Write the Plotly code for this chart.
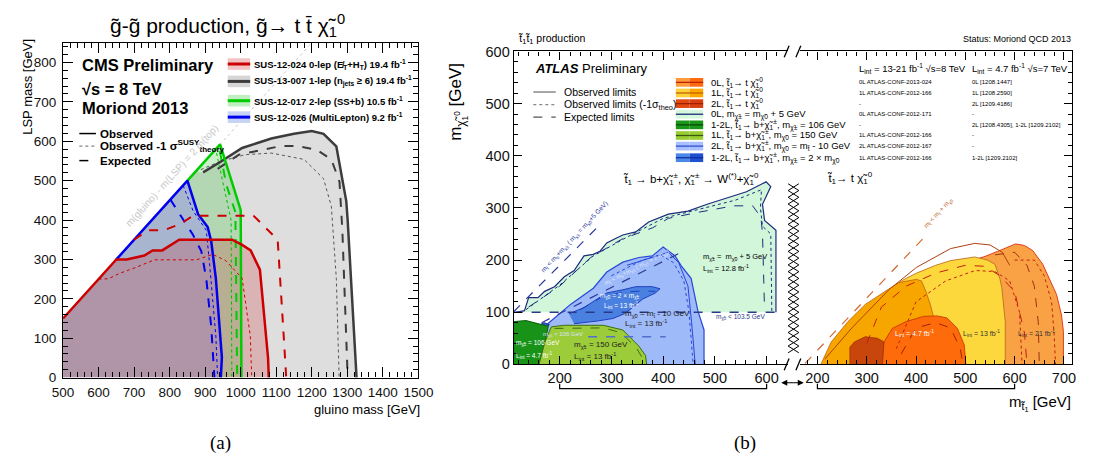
import plotly.graph_objects as go

W, H = 1096, 468
FONT = "Liberation Sans, Arial, sans-serif"

# ================= Panel (a) data: gluino mass vs LSP mass =================
diag_x = [500, 1200]
diag_y = [150, 850]

red_obs_x = [500, 650, 679, 729, 752, 779, 827, 976, 1004, 1028, 1054, 1077, 1079]
red_obs_y = [150, 300, 300, 310, 323, 323, 350, 350, 337, 323, 274, 49, 0]
red_exp_x = [700, 738, 784, 830, 866, 1036, 1077, 1104, 1121, 1128]
red_exp_y = [350, 374, 374, 390, 411, 411, 374, 350, 105, 0]
red_m1_x = [600, 628, 660, 706, 757, 876, 921, 958, 1004, 1027, 1031]
red_m1_y = [250, 251, 265, 280, 299, 299, 313, 297, 252, 105, 0]

blue_obs_x = [650, 850, 880, 898, 907, 917, 930, 947, 944]
blue_obs_y = [300, 500, 415, 392, 382, 346, 252, 51, 0]
blue_exp_x = [802, 866, 889, 903, 917, 926]
blue_exp_y = [452, 362, 321, 252, 129, 0]
blue_m1_x = [838, 866, 903, 912, 930, 935]
blue_m1_y = [488, 423, 374, 293, 105, 0]

green_obs_x = [850, 942, 1000, 1002]
green_obs_y = [500, 592, 425, 0]
green_exp_x = [941, 960, 985, 990]
green_exp_y = [575, 488, 420, 0]
green_m1_x = [932, 973, 975]
green_m1_y = [570, 399, 0]

grey_obs_x = [894, 940, 1004, 1086, 1150, 1200, 1233, 1269, 1297, 1301, 1326]
grey_obs_y = [521, 546, 583, 607, 619, 626, 619, 587, 448, 399, 0]
grey_exp_x = [935, 995, 1114, 1159, 1214, 1255, 1278, 1286, 1301]
grey_exp_y = [530, 566, 588, 588, 578, 554, 497, 374, 0]
grey_m1_x = [872, 940, 1013, 1086, 1178, 1233, 1255, 1269, 1277]
grey_m1_y = [522, 548, 566, 570, 554, 505, 435, 252, 0]

legA_labels = [
    "SUS-12-024 0-lep (E̸<sub>T</sub>+H<sub>T</sub>) 19.4 fb<sup>-1</sup>",
    "SUS-13-007 1-lep (n<sub>jets</sub> ≥ 6) 19.4 fb<sup>-1</sup>",
    "SUS-12-017 2-lep (SS+b) 10.5 fb<sup>-1</sup>",
    "SUS-12-026 (MultiLepton) 9.2 fb<sup>-1</sup>",
]

# ================= Panel (b) data: stop mass vs LSP mass =================
# left part: t1 -> b chargino
mint_x = [115, 132, 140, 158, 171, 190, 209, 228, 247, 265, 278, 291, 309, 322, 347, 372, 410, 448, 485, 523, 561, 599, 608, 592, 596, 618, 618]
mint_y = [100, 103, 128, 128, 140, 149, 168, 180, 208, 211, 217, 233, 242, 248, 254, 273, 288, 294, 307, 319, 331, 350, 341, 307, 276, 257, 100]
mint_exp_x = [140, 200, 260, 320, 380, 410, 470, 536, 573, 589, 592, 596]
mint_exp_y = [110, 150, 205, 240, 262, 280, 292, 304, 304, 282, 251, 103]
mint_m1_x = [135, 200, 265, 330, 400, 470, 540, 590, 588, 592, 608, 610]
mint_m1_y = [105, 152, 208, 244, 280, 297, 315, 335, 300, 265, 250, 100]

lb_x = [170, 150, 177, 221, 265, 291, 322, 353, 379, 400, 423, 435, 454, 467, 479, 479]
lb_y = [0, 45, 78, 115, 146, 177, 196, 205, 208, 225, 208, 189, 165, 103, 66, 0]
lb_in1_x = [300, 360, 395, 420, 440, 450, 458]
lb_in1_y = [170, 200, 210, 195, 160, 100, 0]
lb_in2_x = [330, 380, 410, 430, 448, 455, 462]
lb_in2_y = [190, 205, 215, 195, 150, 80, 0]

db_x = [218, 247, 272, 291, 322, 347, 379, 394, 385, 360, 341, 325, 303, 272, 228]
db_y = [97, 109, 125, 137, 143, 149, 149, 145, 137, 125, 109, 97, 88, 83, 78]
db_in_x = [240, 280, 320, 360, 385]
db_in_y = [105, 128, 138, 141, 140]
sb_x = [111, 130, 150, 170, 180, 165, 135, 111]
sb_y = [58, 64, 70, 80, 76, 64, 58, 55]

dg_x = [111, 111, 135, 160, 178, 172, 162]
dg_y = [0, 82, 84, 78, 73, 45, 0]

yg_x = [160, 172, 184, 209, 284, 322, 353, 366, 368]
yg_y = [0, 45, 72, 75, 75, 66, 35, 17, 0]
yg_exp_x = [190, 284, 318, 348, 360, 362]
yg_exp_y = [69, 70, 61, 32, 12, 0]

lim103_x = [111, 622]
lim103_y = [100, 100]
lim106_x = [255, 405]
lim106_y = [53, 53]
kin1_x = [111, 280]
kin1_y = [101, 270]
kin2_x = [165, 440]
kin2_y = [80, 217.5]

# right part: t1 -> t LSP
kin3_x = [175, 415]
kin3_y = [2, 242]
ro_x = [450, 460, 500, 540, 574, 602, 620, 637, 657, 668, 685, 695, 699, 699]
ro_y = [0, 150, 195, 207, 220, 231, 228, 218, 192, 170, 134, 95, 63, 0]
ye_x = [300, 300, 339, 370, 401, 440, 470, 519, 545, 560, 570, 574, 578, 581, 581]
ye_y = [0, 110, 137, 160, 175, 190, 199, 206, 200, 192, 165, 147, 110, 82, 0]
oy_x = [207, 228, 262, 297, 339, 366, 401, 411, 420, 429, 437, 443, 449]
oy_y = [0, 43, 82, 115, 141, 157, 163, 160, 140, 115, 85, 56, 0]
do_x = [328, 335, 352, 380, 415, 443, 463, 484, 498, 501]
do_y = [0, 43, 69, 82, 92, 93, 89, 69, 37, 0]
dd_x = [266, 266, 275, 297, 322, 335, 332]
dd_y = [0, 33, 43, 53, 50, 43, 0]
tl1_x = [215, 270, 346, 401, 470, 519, 550, 575, 590]
tl1_y = [10, 70, 144, 186, 222, 232, 229, 215, 190]
tl2_x = [300, 330, 380, 440, 500, 540, 570, 600, 620, 625]
tl2_y = [40, 110, 150, 175, 190, 188, 170, 140, 60, 0]
tl3_x = [360, 400, 460, 520, 560, 590, 610, 615]
tl3_y = [30, 120, 160, 180, 178, 160, 100, 0]
tl4_x = [370, 400, 440, 470, 490, 495]
tl4_y = [20, 70, 80, 70, 30, 0]
tl5_x = [600, 640, 660, 675, 680, 683]
tl5_y = [200, 200, 170, 120, 60, 0]
tl6_x = [560, 600, 625, 640, 648, 650]
tl6_y = [210, 215, 190, 150, 80, 0]

legB_labels = [
    "0L, t̃<sub>1</sub>→ t χ̃<sub>1</sub><sup>0</sup>",
    "1L, t̃<sub>1</sub>→ t χ̃<sub>1</sub><sup>0</sup>",
    "2L, t̃<sub>1</sub>→ t χ̃<sub>1</sub><sup>0</sup>",
    "0L, m<sub>χ̃±</sub> = m<sub>χ̃0</sub> + 5 GeV",
    "1-2L, t̃<sub>1</sub>→ b+χ̃<sub>1</sub><sup>±</sup>, m<sub>χ̃±</sub> = 106 GeV",
    "1L, t̃<sub>1</sub>→ b+χ̃<sub>1</sub><sup>±</sup>, m<sub>χ̃0</sub> = 150 GeV",
    "2L, t̃<sub>1</sub>→ b+χ̃<sub>1</sub><sup>±</sup>, m<sub>χ̃0</sub> = m<sub>t̃</sub> - 10 GeV",
    "1-2L, t̃<sub>1</sub>→ b+χ̃<sub>1</sub><sup>±</sup>, m<sub>χ̃±</sub> = 2 × m<sub>χ̃0</sub>",
]
legB_ref8 = ["0L ATLAS-CONF-2013-024", "1L ATLAS-CONF-2012-166", "-", "0L ATLAS-CONF-2012-171",
             "-", "1L ATLAS-CONF-2012-166", "2L ATLAS-CONF-2012-167", "1L ATLAS-CONF-2012-166"]
legB_ref7 = ["0L [1208.1447]", "1L [1208.2590]", "2L [1209.4186]", "-",
             "2L [1208.4305], 1-2L [1209.2102]", "-", "-", "1-2L [1209.2102]"]
legB_colors = [("#ff9a3c", "#ff6a10", "#c02000"), ("#ffd23a", "#ffa800", "#c06000"),
               ("#e24a12", "#d84010", "#a02000"), ("#d4f7dc", "#d4f7dc", "#1c2c7c"),
               ("#1a961a", "#1a961a", "#0a4a0a"), ("#9acd32", "#9acd32", "#3a5a10"),
               ("#a8c0ff", "#a8c0ff", "#3050d0"), ("#4a88e8", "#1f50d0", "#1030a0")]

# ================= figure =================
fig = go.Figure()


def poly(xs, ys, xa, ya, fill, line="rgba(0,0,0,0)", width=0.0):
    fig.add_trace(go.Scatter(x=xs, y=ys, xaxis=xa, yaxis=ya, mode="lines", fill="toself",
                             fillcolor=fill, line=dict(color=line, width=width),
                             hoverinfo="skip", showlegend=False))


def curve(xs, ys, xa, ya, color, width, dash="solid"):
    fig.add_trace(go.Scatter(x=xs, y=ys, xaxis=xa, yaxis=ya, mode="lines",
                             line=dict(color=color, width=width, dash=dash),
                             hoverinfo="skip", showlegend=False))


# ---- panel (a) fills ----
poly([500, 500, 872] + grey_obs_x, [0, 150, 522] + grey_obs_y, "x", "y", "rgba(200,200,200,0.6)")
poly(green_obs_x + blue_obs_x[1:][::-1], green_obs_y + blue_obs_y[1:][::-1], "x", "y", "rgba(40,190,40,0.24)")
poly([500] + blue_obs_x + [500], [150] + blue_obs_y + [0], "x", "y", "rgba(40,90,170,0.30)")
poly(red_obs_x + [500], red_obs_y + [0], "x", "y", "rgba(205,30,30,0.22)")

curve(diag_x, diag_y, "x", "y", "#c8c8c8", 1, "dot")
curve(grey_m1_x, grey_m1_y, "x", "y", "#555555", 1, "dot")
curve(grey_exp_x, grey_exp_y, "x", "y", "#3c3c3c", 2, "dash")
curve(grey_obs_x, grey_obs_y, "x", "y", "#3c3c3c", 2.5)
curve(green_m1_x, green_m1_y, "x", "y", "#00bb00", 1, "dot")
curve(green_exp_x, green_exp_y, "x", "y", "#00cc00", 2, "dash")
curve(green_obs_x, green_obs_y, "x", "y", "#00cc00", 2.5)
curve(blue_m1_x, blue_m1_y, "x", "y", "#0000ee", 1, "dot")
curve(blue_exp_x, blue_exp_y, "x", "y", "#0000ee", 2, "dash")
curve(blue_obs_x, blue_obs_y, "x", "y", "#0000ee", 2.5)
curve(red_m1_x, red_m1_y, "x", "y", "#cc0000", 1, "dot")
curve(red_exp_x, red_exp_y, "x", "y", "#cc0000", 2, "dash")
curve(red_obs_x, red_obs_y, "x", "y", "#cc0000", 2.5)

# ---- panel (b) left fills ----
poly(mint_x, mint_y, "x2", "y2", "#d2f6da", "#1c2c7c", 1.2)
curve(mint_exp_x, mint_exp_y, "x2", "y2", "#1c2c7c", 1, "dash")
curve(mint_m1_x, mint_m1_y, "x2", "y2", "#1c2c7c", 1, "dot")
poly(lb_x, lb_y, "x2", "y2", "#9fbaf8", "#2848d8", 1.2)
curve(lb_in1_x, lb_in1_y, "x2", "y2", "#2848d8", 1, "dot")
curve(lb_in2_x, lb_in2_y, "x2", "y2", "#2848d8", 1)
poly(db_x, db_y, "x2", "y2", "#4a80e0", "#1f3fbf", 1)
curve(db_in_x, db_in_y, "x2", "y2", "#1f3fbf", 1, "dash")
poly(sb_x, sb_y, "x2", "y2", "#2f5fd0", "#1030a0", 1)
poly(dg_x, dg_y, "x2", "y2", "#189318", "#0b5e0b", 1)
poly(yg_x, yg_y, "x2", "y2", "#9ccc3a", "#3a6e10", 1)
curve(yg_exp_x, yg_exp_y, "x2", "y2", "#3a6e10", 1, "dash")
curve(lim103_x, lim103_y, "x2", "y2", "#2a3a8a", 1.5, "dash")
curve(lim106_x, lim106_y, "x2", "y2", "#5070d0", 1.5, "dash")
curve(kin1_x, kin1_y, "x2", "y2", "#2a3a9a", 1.2, "dash")
curve(kin2_x, kin2_y, "x2", "y2", "#2a3a9a", 1.2, "dash")

# ---- panel (b) right fills ----
poly(ro_x, ro_y, "x3", "y3", "#f9a245", "#e03c1c", 1)
poly(ye_x, ye_y, "x3", "y3", "#fdd83c", "#b5651d", 0.8)
poly(oy_x, oy_y, "x3", "y3", "#f7a600", "#c06010", 0.8)
poly(do_x, do_y, "x3", "y3", "#fe6b0b", "#c03000", 0.8)
poly(dd_x, dd_y, "x3", "y3", "#c8460c", "#a03000", 0.8)
curve(tl1_x, tl1_y, "x3", "y3", "#b04010", 1)
curve(tl2_x, tl2_y, "x3", "y3", "#c02010", 1, "dash")
curve(tl3_x, tl3_y, "x3", "y3", "#c02010", 1, "dot")
curve(tl4_x, tl4_y, "x3", "y3", "#a02000", 1, "dash")
curve(tl5_x, tl5_y, "x3", "y3", "#c02010", 1, "dot")
curve(tl6_x, tl6_y, "x3", "y3", "#a03010", 1, "dash")
curve(kin3_x, kin3_y, "x3", "y3", "#d06a30", 1.2, "dash")


def px(x):
    return x / W


def py(y):
    return 1 - y / H


axis_common = dict(ticks="inside", tickcolor="black", tickwidth=1, showline=True, linecolor="black",
                   linewidth=1.3, showgrid=False, zeroline=False, tickmode="linear",
                   tickfont=dict(family=FONT, size=13.5, color="#111"))
tf_b = dict(family=FONT, size=14.5, color="#111")

fig.update_layout(
    width=W, height=H, margin=dict(l=0, r=0, t=0, b=0),
    paper_bgcolor="white", plot_bgcolor="white", showlegend=False,
    font=dict(family=FONT, color="black"),
    xaxis=dict(domain=[px(53.3), px(417.3)], range=[500, 1500], anchor="y", tick0=500, dtick=100,
               ticklen=10, mirror="allticks", ticklabelstandoff=2,
               minor=dict(tick0=500, dtick=20, ticklen=5, ticks="inside", tickcolor="black"),
               **axis_common),
    yaxis=dict(domain=[py(382.7), py(36)], range=[0, 850], anchor="x", tick0=0, dtick=100,
               ticklen=10, mirror="allticks", ticklabelstandoff=3,
               minor=dict(tick0=0, dtick=20, ticklen=5, ticks="inside", tickcolor="black"),
               **axis_common),
    xaxis2=dict(domain=[px(515), px(796)], range=[111.3, 641.5], anchor="y2", tick0=0, dtick=100,
                ticklen=8, mirror="allticks",
                minor=dict(tick0=0, dtick=20, ticklen=4, ticks="inside", tickcolor="black"),
                **{**axis_common, "tickfont": tf_b}),
    xaxis3=dict(domain=[px(808), px(1087)], range=[164.4, 716.8], anchor="y3", tick0=0, dtick=100,
                ticklen=8, mirror="allticks",
                minor=dict(tick0=0, dtick=20, ticklen=4, ticks="inside", tickcolor="black"),
                **{**axis_common, "tickfont": tf_b}),
    yaxis2=dict(domain=[py(369), py(45)], range=[0, 600], anchor="x2", tick0=0, dtick=100,
                ticklen=8, mirror=False,
                minor=dict(tick0=0, dtick=20, ticklen=4, ticks="inside", tickcolor="black"),
                **{**axis_common, "tickfont": tf_b}),
    yaxis3=dict(range=[0, 600], anchor="x3", overlaying="y2", side="right", tick0=0, dtick=100,
                ticklen=8, showticklabels=False, mirror=False,
                minor=dict(tick0=0, dtick=20, ticklen=4, ticks="inside", tickcolor="black"),
                **axis_common),
)

shapes = []
ann = []


def text(t, x, y, size, color="black", xanchor="left", yanchor="middle", angle=0, family=FONT,
         xref="paper", yref="paper"):
    if xref == "paper":
        x, y = px(x), py(y)
    ann.append(dict(text=t, x=x, y=y, xref=xref, yref=yref, showarrow=False, textangle=angle,
                    font=dict(size=size, color=color, family=family), xanchor=xanchor, yanchor=yanchor,
                    borderpad=0))


def pline(x0, y0, x1, y1, color="black", width=1, dash="solid"):
    shapes.append(dict(type="line", xref="paper", yref="paper", x0=px(x0), y0=py(y0), x1=px(x1), y1=py(y1),
                       line=dict(color=color, width=width, dash=dash)))


def prect(x0, y0, x1, y1, fill):
    shapes.append(dict(type="rect", xref="paper", yref="paper", x0=px(x0), y0=py(y0), x1=px(x1), y1=py(y1),
                       fillcolor=fill, line=dict(width=0)))


def ppath(points, color="black", width=1):
    d = "M " + " L ".join(f"{px(a):.5f},{py(b):.5f}" for a, b in points)
    shapes.append(dict(type="path", xref="paper", yref="paper", path=d, line=dict(color=color, width=width)))


# ---- panel (a) texts ----
text("g̃-g̃ production, g̃→ t t̄ χ̃<sub>1</sub><sup>0</sup>", 222, 18, 21, xanchor="center")
text("LSP mass [GeV]", 17, 82, 13, xanchor="center", angle=-90)
text("gluino mass [GeV]", 420, 416, 13, xanchor="right")
text("<b>CMS Preliminary</b>", 72, 59, 16.5)
text("<b>√s = 8 TeV</b>", 72, 84, 16.5)
text("<b>Moriond 2013</b>", 72, 104, 16.5)
pline(70, 130, 87, 130, "black", 1.5)
pline(70, 143, 87, 143, "#666", 1, "dot")
pline(70, 158, 87, 158, "black", 1.5, "dash")
text("<b>Observed</b>", 90, 130, 11.5)
text("<b>Observed -1 σ<sup>SUSY</sup><sub>theory</sub></b>", 90, 143, 11.5)
text("<b>Expected</b>", 90, 158, 11.5)
legA_fill = ["#f2c4c4", "#d6d6d6", "#c2efc2", "#c8d2f4"]
legA_line = ["#cc0000", "#3c3c3c", "#00cc00", "#0000ee"]
for lab, yy, fc, lc in zip(legA_labels, [58, 76, 96, 113], legA_fill, legA_line):
    prect(222, yy - 6, 245, yy + 6, fc)
    pline(222, yy, 245, yy, lc, 3)
    text("<b>" + lab + "</b>", 248, yy, 9.5)
text("m(gluino) - m(LSP) = 2 m(top)", 806, 514, 10, color="#c8c8c8", xanchor="center",
     angle=-48, xref="x", yref="y")
text("(a)", 215, 450, 19, family="Liberation Serif, DejaVu Serif, serif", xanchor="center")
text("(b)", 752, 450, 19, family="Liberation Serif, DejaVu Serif, serif", xanchor="center")

# ---- panel (b) texts ----
text("t̃<sub>1</sub>t̃<sub>1</sub> production", 518, 32, 10.5)
text("Status: Moriond QCD 2013", 1087, 32, 9, xanchor="right")
text("m<sub>χ̃<sub>1</sub><sup>0</sup></sub> [GeV]", 458, 97, 17, xanchor="center", angle=-90)
text("m<sub>t̃<sub>1</sub></sub> [GeV]", 1087, 409, 15, xanchor="right")
text("<b><i>ATLAS</i></b> Preliminary", 536, 63, 13)
pline(535, 87, 558, 87, "#888", 1.5)
pline(535, 100, 558, 100, "#888", 1.2, "dot")
pline(535, 113, 558, 113, "#555", 1.2, "dash")
text("Observed limits", 565, 87, 10.5)
text("Observed limits (-1σ<sub>theo</sub>)", 565, 100, 10.5)
text("Expected limits", 565, 113, 10.5)
text("L<sub>int</sub> = 13-21 fb<sup>-1</sup> √s=8 TeV", 868, 63, 9.5)
text("L<sub>int</sub> = 4.7 fb<sup>-1</sup> √s=7 TeV", 983, 63, 9.5)
rows_y = [77, 88, 99, 110, 121, 132, 143, 155]
for lab, r8, r7, yy, (c1, c2, cl) in zip(legB_labels, legB_ref8, legB_ref7, rows_y, legB_colors):
    prect(681, yy - 4.5, 695, yy + 4.5, c1)
    prect(695, yy - 4.5, 709, yy + 4.5, c2)
    pline(681, yy, 709, yy, cl, 1.3)
    text(lab, 716, yy, 9.5)
    text(r8, 868, yy, 6)
    text(r7, 983, yy, 6)

text("t̃<sub>1</sub> → b+χ̃<sub>1</sub><sup>±</sup>, χ̃<sub>1</sub><sup>±</sup> → W<sup>(*)</sup>+χ̃<sub>1</sub><sup>0</sup>",
     453, 356, 11.5, xanchor="center", xref="x2", yref="y2")
text("t̃<sub>1</sub>→ t χ̃<sub>1</sub><sup>0</sup>", 267, 358, 11.5, xanchor="center", xref="x3", yref="y3")
text("m<sub>χ̃±</sub> =  m<sub>χ̃0</sub> + 5 GeV", 476, 205, 7.5, xref="x2", yref="y2")
text("L<sub>int</sub> = 12.8 fb<sup>-1</sup>", 476, 183, 7.5, xref="x2", yref="y2")
text("m<sub>χ̃0</sub> = m<sub>t̃</sub> - 10 GeV", 325, 97, 8, color="#222", xref="x2", yref="y2")
text("L<sub>int</sub> = 13 fb<sup>-1</sup>", 325, 79, 8, color="#222", xref="x2", yref="y2")
text("m<sub>χ̃±</sub> = 150 GeV", 226, 37, 8, color="#222", xref="x2", yref="y2")
text("L<sub>int</sub> = 13 fb<sup>-1</sup>", 226, 15, 8, color="#222", xref="x2", yref="y2")
text("m<sub>χ̃±</sub> = 106 GeV", 113, 41, 6.5, color="white", xref="x2", yref="y2")
text("L<sub>int</sub> = 4.7 fb<sup>-1</sup>", 113, 17, 6.5, color="white", xref="x2", yref="y2")
text("m<sub>χ̃0</sub> = 2 × m<sub>χ̃±</sub>", 276, 131, 6.5, color="white", xref="x2", yref="y2")
text("L<sub>int</sub> = 13 fb<sup>-1</sup>", 283, 112, 6.5, color="white", xref="x2", yref="y2")
text("m<sub>χ̃±</sub> < 103.5 GeV", 500, 91, 6.5, color="#2a3a8a", xref="x2", yref="y2")
text("m<sub>χ̃±</sub> < 106 GeV", 166, 57, 6, color="#d8e4ff", xref="x2", yref="y2")
text("m<sub>t̃</sub> < m<sub>b</sub>+m<sub>χ̃±</sub> ( m<sub>χ̃±</sub> = m<sub>χ̃0</sub>+5 GeV)", 228, 245, 6.5,
     color="#2a3a9a", xanchor="center", angle=-47, xref="x2", yref="y2")
text("m<sub>t̃</sub> < m<sub>b</sub>+m<sub>χ̃±</sub> ( m<sub>χ̃±</sub> = 2 m<sub>χ̃0</sub>)", 350, 186, 6,
     color="#dde6ff", xanchor="center", angle=-27, xref="x2", yref="y2")
text("m<sub>t̃</sub> < m<sub>t</sub> + m<sub>χ̃0</sub>", 445, 290, 6.5, color="#c06a30",
     xanchor="center", angle=-47, xref="x3", yref="y3")
text("L<sub>int</sub> = 4.7 fb<sup>-1</sup>", 356, 60, 7, color="white", xref="x3", yref="y3")
text("L<sub>int</sub> = 13 fb<sup>-1</sup>", 494, 60, 7, color="#333", xref="x3", yref="y3")
text("L<sub>int</sub> = 21 fb<sup>-1</sup>", 605, 60, 7, color="#333", xref="x3", yref="y3")

# axis break marks and hatched band
for yb in (369, 45):
    pline(792, yb + 6, 797, yb - 6, "black", 1.3)
    pline(804, yb + 6, 809, yb - 6, "black", 1.3)
zz1, zz2 = [], []
yy0 = 182
k = 0
while yy0 + 7 * k <= 362:
    zz1.append((796 if k % 2 == 0 else 807, yy0 + 7 * k))
    zz2.append((807 if k % 2 == 0 else 796, yy0 + 7 * k))
    k += 1
ppath(zz1, "black", 1)
ppath(zz2, "black", 1)

# brackets under the broken axis
ppath([(562, 389), (562, 394), (774, 394), (774, 389)], "black", 1.2)
ppath([(826, 389), (826, 394), (1028, 394), (1028, 389)], "black", 1.2)
ann.append(dict(x=px(812), y=py(388), xref="paper", yref="paper", ax=-24, ay=0, text="",
                showarrow=True, arrowhead=2, arrowside="end+start", arrowsize=1, arrowwidth=1.2,
                arrowcolor="black"))

fig.update_layout(shapes=shapes, annotations=ann)
fig.write_html("out.html", config={"displayModeBar": False},
               post_script="document.body.style.margin='0';")
